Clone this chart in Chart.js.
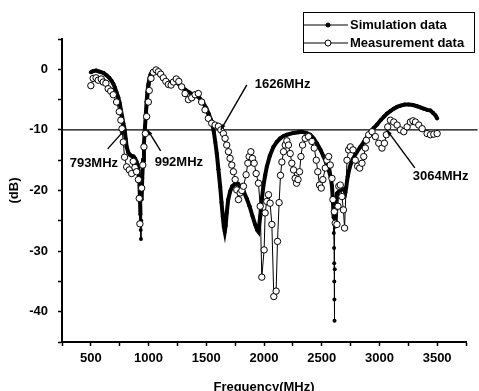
<!DOCTYPE html>
<html>
<head>
<meta charset="utf-8">
<script src="https://cdn.jsdelivr.net/npm/chart.js@4.4.1/dist/chart.umd.min.js"></script>
<style>
  html, body { margin: 0; padding: 0; background: #fff; overflow: hidden; }
  #wrap { width: 479px; height: 396px; }
</style>
</head>
<body>
<div id="wrap"><canvas id="myChart" width="479" height="396"></canvas></div>
<script>
// simulated return loss (MHz / dB)
const simFreq = [500, 520, 545, 578, 610, 636, 660, 679, 695, 708, 722, 737, 750, 760, 771, 781, 793, 802, 810, 824,
    838, 855, 870, 882, 895, 905, 913, 919, 925, 929, 932, 934, 937, 940, 945, 952, 960, 969, 976, 983,
    990, 998, 1008, 1018, 1032, 1050, 1070, 1090, 1110, 1130, 1157, 1185, 1210, 1235, 1260, 1290, 1320, 1350, 1380, 1410,
    1440, 1470, 1500, 1520, 1540, 1555, 1565, 1578, 1591, 1605, 1620, 1632, 1643, 1652, 1660, 1668, 1677, 1690, 1706, 1725,
    1750, 1775, 1800, 1825, 1850, 1875, 1900, 1923, 1940, 1952, 1967, 1981, 1995, 2010, 2024, 2050, 2082, 2110, 2140, 2170,
    2198, 2256, 2300, 2328, 2365, 2400, 2430, 2458, 2490, 2516, 2540, 2560, 2578, 2589, 2598, 2603, 2605, 2607, 2608, 2609,
    2610, 2611, 2613, 2615, 2620, 2632, 2661, 2690, 2705, 2712, 2725, 2745, 2770, 2805, 2835, 2864, 2892, 2921, 2950, 2980,
    3010, 3040, 3066, 3095, 3124, 3153, 3182, 3220, 3254, 3290, 3326, 3355, 3384, 3415, 3442, 3465, 3485, 3500];
const simDb = [-0.5, -0.3, -0.2, -0.4, -0.6, -1.0, -1.4, -1.9, -2.4, -3.0, -3.8, -4.6, -5.6, -6.7, -7.8, -8.9, -10.0, -11.5, -12.8, -13.7,
    -14.1, -14.3, -14.4, -14.7, -15.2, -15.8, -16.8, -18.2, -21.0, -24.0, -26.5, -28.0, -25.0, -21.5, -18.0, -15.0, -12.2, -9.5, -7.5, -5.3,
    -3.8, -2.5, -1.5, -0.8, -0.4, -0.3, -0.4, -0.8, -1.2, -1.6, -2.0, -2.2, -2.1, -2.0, -2.4, -3.0, -3.4, -3.8, -4.1, -4.3,
    -4.7, -5.4, -6.4, -7.3, -8.3, -9.3, -10.3, -12.0, -13.9, -16.5, -19.3, -22.0, -24.3, -26.0, -26.8, -25.8, -23.7, -21.5, -20.2, -19.3,
    -18.9, -18.9, -19.4, -20.2, -21.3, -22.6, -24.2, -25.6, -26.5, -26.8, -24.3, -21.5, -19.2, -17.5, -16.1, -14.3, -12.8, -12.0, -11.4, -11.0,
    -10.8, -10.5, -10.4, -10.3, -10.5, -10.8, -11.4, -12.2, -13.3, -14.4, -15.5, -16.6, -17.8, -19.3, -22.0, -24.5, -27.0, -29.5, -32.0, -35.0,
    -38.0, -41.5, -33.0, -26.0, -22.0, -20.5, -19.9, -19.8, -20.3, -19.5, -17.7, -16.0, -14.8, -13.6, -12.8, -12.0, -11.2, -10.3, -9.7, -9.1,
    -8.4, -7.8, -7.3, -6.9, -6.5, -6.2, -6.0, -5.8, -5.8, -5.9, -6.1, -6.3, -6.5, -6.7, -6.8, -7.2, -7.6, -8.1];

// measured return loss (MHz / dB)
const measFreq = [500, 520, 545, 564, 590, 607, 630, 650, 672, 694, 723, 746, 760, 770, 781, 792, 810, 833, 853, 867,
    882, 896, 912, 919, 925, 940, 950, 960, 972, 983, 998, 1006, 1021, 1041, 1065, 1085, 1105, 1128, 1150, 1172,
    1195, 1215, 1240, 1262, 1287, 1316, 1345, 1374, 1403, 1431, 1460, 1489, 1518, 1547, 1576, 1605, 1626, 1648, 1663, 1677,
    1692, 1706, 1721, 1735, 1750, 1764, 1779, 1793, 1808, 1822, 1845, 1860, 1871, 1886, 1900, 1915, 1932, 1952, 1967, 1981,
    2001, 2010, 2024, 2039, 2053, 2068, 2085, 2105, 2117, 2131, 2143, 2155, 2169, 2184, 2198, 2212, 2227, 2241, 2256, 2270,
    2282, 2295, 2308, 2320, 2334, 2357, 2386, 2415, 2435, 2453, 2466, 2481, 2496, 2510, 2531, 2545, 2560, 2574, 2589, 2597,
    2609, 2617, 2632, 2641, 2648, 2661, 2675, 2688, 2698, 2719, 2733, 2748, 2771, 2791, 2811, 2829, 2849, 2864, 2878, 2887,
    2907, 2936, 2965, 2994, 3022, 3043, 3060, 3072, 3095, 3124, 3153, 3182, 3211, 3240, 3268, 3290, 3312, 3341, 3370, 3413,
    3442, 3471, 3500];
const measDb = [-2.7, -1.5, -1.4, -1.8, -1.6, -2.1, -2.3, -3.2, -3.6, -4.2, -5.4, -7.0, -8.4, -9.8, -12.0, -14.5, -16.1, -16.6, -17.2, -15.2,
    -16.2, -16.9, -18.2, -21.3, -25.5, -19.6, -15.8, -12.8, -10.6, -7.8, -5.4, -3.5, -1.5, -0.5, -0.1, -0.4, -0.8, -1.4, -2.0, -2.5,
    -2.6, -2.1, -1.6, -2.0, -2.9, -4.0, -5.0, -4.7, -4.2, -4.0, -5.4, -6.7, -8.1, -8.9, -9.2, -9.4, -10.0, -10.6, -11.4, -12.5,
    -13.6, -14.7, -15.8, -16.9, -18.2, -19.9, -21.5, -20.4, -20.0, -19.3, -17.4, -15.5, -14.4, -13.6, -14.7, -15.5, -17.2, -18.8, -22.6, -34.3,
    -29.8, -23.7, -21.8, -20.7, -22.1, -25.6, -37.5, -36.6, -28.4, -22.0, -17.5, -15.3, -13.6, -12.5, -11.8, -12.5, -13.9, -15.5, -16.6, -18.0,
    -18.8, -18.2, -16.9, -14.4, -12.5, -11.4, -11.1, -11.9, -13.0, -15.0, -16.9, -19.1, -19.6, -18.2, -16.3, -15.0, -14.4, -15.8, -18.0, -21.5,
    -23.5, -25.4, -25.6, -22.6, -19.3, -19.1, -21.0, -23.2, -26.2, -15.0, -13.3, -12.8, -13.3, -15.0, -16.0, -16.3, -15.5, -14.4, -13.0, -11.7,
    -10.8, -10.3, -11.1, -12.2, -13.0, -12.2, -10.8, -9.5, -8.4, -8.7, -9.2, -10.0, -10.3, -9.5, -8.7, -8.5, -8.7, -9.2, -9.8, -10.6,
    -10.8, -10.7, -10.6];

const refLevel = -10;
const markFreq = [793, 992, 1626, 3064];
const markText = ['793MHz', '992MHz', '1626MHz', '3064MHz'];
const xLabels = [500, 1000, 1500, 2000, 2500, 3000, 3500];
const yLabels = [0, -10, -20, -30, -40];

const FONT = 'Liberation Sans, Arial, Helvetica, sans-serif';
Chart.defaults.font.family = FONT;
Chart.defaults.color = '#000';

// label positions relative to the arrow tip (px)
const markStyle = [
    { tail: [-17, 19], text: [-55, 34] },
    { tail: [13, 21], text: [7, 33] },
    { tail: [26, -45], text: [34, -45] },
    { tail: [28, 38], text: [26, 47] }
];

const markerPlugin = {
    id: 'markers',
    afterDatasetsDraw(chart) {
        const ctx = chart.ctx;
        const xs = chart.scales.x, ys = chart.scales.y;
        ctx.save();
        ctx.strokeStyle = '#000';
        ctx.fillStyle = '#000';
        ctx.lineWidth = 1.4;
        ctx.font = 'bold 13px ' + FONT;
        ctx.textBaseline = 'middle';
        ctx.textAlign = 'left';
        markFreq.forEach((f, i) => {
            const tx = xs.getPixelForValue(f);
            const ty = ys.getPixelForValue(refLevel);
            const st = markStyle[i];
            const sx = tx + st.tail[0], sy = ty + st.tail[1];
            ctx.beginPath();
            ctx.moveTo(sx, sy);
            ctx.lineTo(tx, ty);
            ctx.stroke();
            // small arrow head
            const a = Math.atan2(ty - sy, tx - sx);
            ctx.beginPath();
            ctx.moveTo(tx, ty);
            ctx.lineTo(tx - 6 * Math.cos(a - 0.35), ty - 6 * Math.sin(a - 0.35));
            ctx.lineTo(tx - 6 * Math.cos(a + 0.35), ty - 6 * Math.sin(a + 0.35));
            ctx.closePath();
            ctx.fill();
            ctx.fillText(markText[i], tx + st.text[0], ty + st.text[1]);
        });
        ctx.restore();
    }
};

const legendPlugin = {
    id: 'boxLegend',
    afterDraw(chart) {
        const ctx = chart.ctx;
        const ds = chart.data.datasets;
        ctx.save();
        ctx.strokeStyle = '#000';
        ctx.lineWidth = 1;
        ctx.strokeRect(303.5, 12.5, 171, 40);
        ctx.font = 'bold 13px ' + FONT;
        ctx.textBaseline = 'middle';
        ctx.fillStyle = '#000';
        [0, 1].forEach(i => {
            const d = ds[i];
            const y = 25 + i * 18;
            ctx.beginPath();
            ctx.lineWidth = 1;
            ctx.moveTo(304, y);
            ctx.lineTo(348, y);
            ctx.stroke();
            ctx.beginPath();
            ctx.arc(328, y, i === 0 ? 2 : 3, 0, Math.PI * 2);
            ctx.fillStyle = i === 0 ? '#000' : '#fff';
            ctx.fill();
            ctx.stroke();
            ctx.fillStyle = '#000';
            ctx.fillText(d.label, 350, y);
        });
        ctx.restore();
    }
};

const ctx = document.getElementById('myChart').getContext('2d');
const myChart = new Chart(ctx, {
    type: 'line',
    data: {
        datasets: [
            {
                label: 'Simulation data',
                data: simFreq.map((f, i) => ({ x: f, y: simDb[i] })),
                borderColor: '#000',
                borderWidth: 4,
                pointRadius: 2,
                pointBackgroundColor: '#000',
                pointBorderWidth: 0,
                tension: 0,
                order: 2,
                segment: {
                    // near-vertical runs show as a thin line with dots
                    borderWidth: c => Math.abs(c.p1.x - c.p0.x) < 0.4 ? 1 : 4
                }
            },
            {
                label: 'Measurement data',
                data: measFreq.map((f, i) => ({ x: f, y: measDb[i] })),
                borderColor: '#000',
                borderWidth: 1,
                pointRadius: 3.2,
                pointBackgroundColor: '#fff',
                pointBorderColor: '#000',
                pointBorderWidth: 1,
                tension: 0,
                order: 1
            },
            {
                label: 'ref',
                data: [{ x: 250, y: refLevel }, { x: 3850, y: refLevel }],
                borderColor: '#000',
                borderWidth: 1.4,
                pointRadius: 0,
                clip: { left: 0, top: 0, right: 12, bottom: 0 },
                order: 3
            }
        ]
    },
    options: {
        responsive: false,
        animation: false,
        devicePixelRatio: 1,
        events: [],
        layout: { padding: { top: 39, right: 13, left: 0, bottom: 0 } },
        plugins: { legend: { display: false }, tooltip: { enabled: false } },
        scales: {
            x: {
                type: 'linear',
                min: 250,
                max: 3750,
                afterFit: s => { s.height = 54; },
                border: { color: '#000', width: 2 },
                grid: { drawOnChartArea: false, color: '#000', tickLength: 4, tickWidth: 1.5 },
                ticks: {
                    stepSize: 250,
                    autoSkip: false,
                    maxRotation: 0,
                    padding: 5,
                    font: { size: 13, weight: 'bold' },
                    callback: v => xLabels.includes(v) ? String(v) : ''
                },
                title: {
                    display: true,
                    text: 'Frequency(MHz)',
                    font: { size: 13, weight: 'bold' },
                    padding: { top: 0, bottom: 1 }
                }
            },
            y: {
                min: -45,
                max: 5,
                afterFit: s => { s.width = 62; },
                border: { color: '#000', width: 2 },
                grid: { drawOnChartArea: false, color: '#000', tickLength: 4, tickWidth: 1.5 },
                ticks: {
                    stepSize: 5,
                    autoSkip: false,
                    padding: 10,
                    font: { size: 13, weight: 'bold' },
                    callback: v => yLabels.includes(v) ? String(v) : ''
                },
                title: {
                    display: true,
                    text: '(dB)',
                    font: { size: 13, weight: 'bold' },
                    padding: { top: 7, bottom: 0 }
                }
            }
        }
    },
    plugins: [markerPlugin, legendPlugin]
});
</script>
</body>
</html>
